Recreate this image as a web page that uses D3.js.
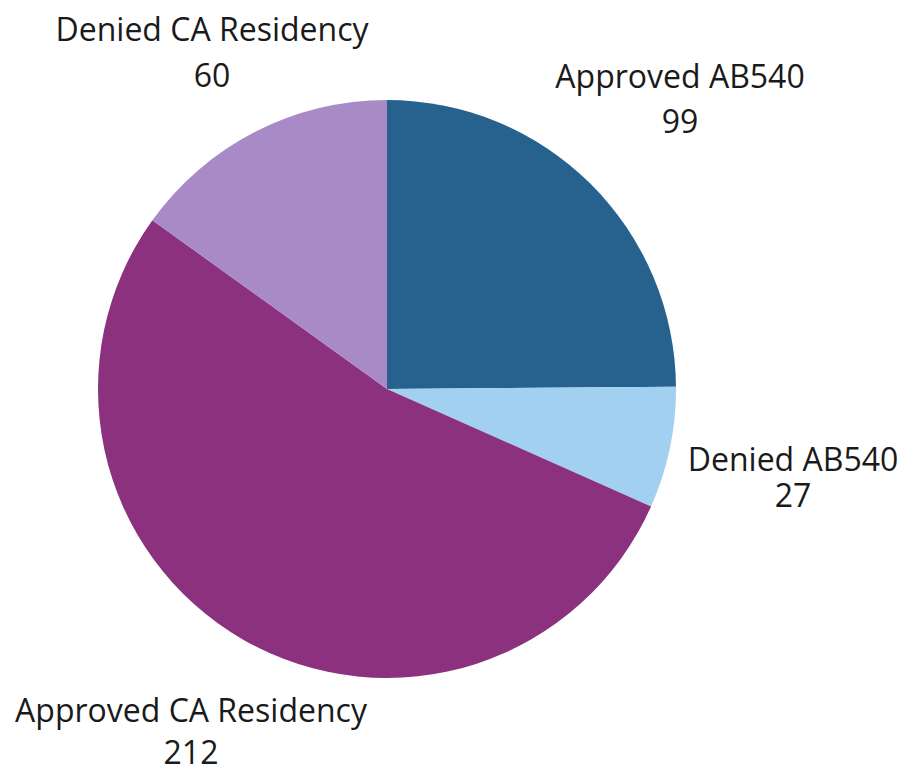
<!DOCTYPE html>
<html>
<head>
<meta charset="utf-8">
<script src="https://cdn.jsdelivr.net/npm/d3@7/dist/d3.min.js"></script>
<style>
  html, body { margin: 0; padding: 0; background: #fff; }
  text { font-family: "Open Sans", sans-serif; fill: #1a1a1a; }
</style>
</head>
<body>
<svg id="chart" width="903" height="769"></svg>
<script>
// slice data, clockwise from 12 o'clock
var categories = ["Approved AB540", "Denied AB540", "Approved CA Residency", "Denied CA Residency"];
var counts = [99, 27, 212, 60];
var colors = ["#27628f", "#a2d0f1", "#8b317d", "#a88bc6"];

(function () {
   "use strict";

   var svg = d3.select("#chart"),
      cx = 387,
      cy = 389,
      radius = 289,
      // label anchor points (center of name line, baseline) - layout only
      labelPos = [[680, 88], [793, 471], [191, 722], [212, 41]],
      lineGap = [45, 36, 42, 46];

   var slices = d3.pie().sort(null).value(function (d) { return d; })(counts);
   var arc = d3.arc().innerRadius(0).outerRadius(radius);

   var g = svg.append("g").attr("transform", "translate(" + cx + "," + cy + ")");

   g.selectAll("path")
      .data(slices)
      .enter().append("path")
      .attr("d", arc)
      .attr("fill", function (d, i) { return colors[i]; });

   var labels = svg.selectAll("g.lbl")
      .data(slices)
      .enter().append("g")
      .attr("class", "lbl")
      .attr("transform", function (d, i) {
         return "translate(" + labelPos[i][0] + "," + labelPos[i][1] + ")";
      });

   labels.append("text")
      .attr("text-anchor", "middle")
      .style("font-size", "32px")
      .text(function (d, i) { return categories[i]; });

   labels.append("text")
      .attr("text-anchor", "middle")
      .attr("y", function (d, i) { return lineGap[i]; })
      .style("font-size", "32px")
      .text(function (d) { return d.data; });
}());
</script>
</body>
</html>
